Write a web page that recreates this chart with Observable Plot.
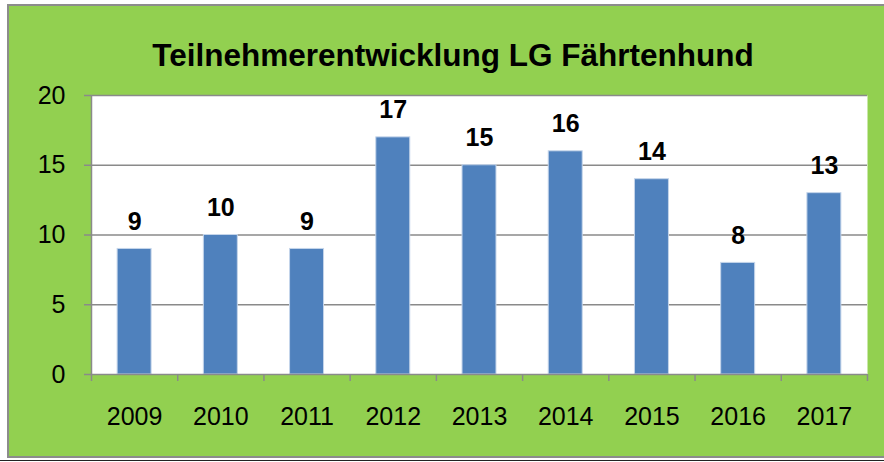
<!DOCTYPE html>
<html>
<head>
<meta charset="utf-8">
<script src="https://cdn.jsdelivr.net/npm/d3@7"></script>
<script src="https://cdn.jsdelivr.net/npm/@observablehq/plot@0.6"></script>
<style>
  html, body { margin: 0; padding: 0; background: #ffffff; }
  #page { position: relative; width: 884px; height: 462px; overflow: hidden; background: #ffffff; }
  #box { position: absolute; left: 7px; top: 4px; width: 890px; height: 450px; border: 2px solid #8c8c8c; background: #92D050; }
  #base { position: absolute; left: 0; top: 460px; width: 884px; height: 0; border-top: 1.5px solid #222; }
  #chart { position: absolute; left: 0; top: 0; }
  svg { font-family: "Liberation Sans", Arial, sans-serif; }
</style>
</head>
<body>
<div id="page">
  <div id="box"></div>
  <div id="base"></div>
  <div id="chart"></div>
</div>
<script>
const title = "Teilnehmerentwicklung LG Fährtenhund";
const years = [2009, 2010, 2011, 2012, 2013, 2014, 2015, 2016, 2017];
const participants = [9, 10, 9, 17, 15, 16, 14, 8, 13];
const yTicks = [0, 5, 10, 15, 20];

const data = years.map((year, i) => ({year, value: participants[i]}));
const halfBar = 0.197;
const boundaries = [years[0] - 0.5, ...years.map(y => y + 0.5)];
const gray = "#8a8a8a";

const chart = Plot.plot({
  width: 884,
  height: 462,
  marginLeft: 91,
  marginRight: 17,
  marginTop: 95,
  marginBottom: 88,
  style: {background: "transparent", fontFamily: "Liberation Sans, Arial, sans-serif", color: "#000"},
  x: {domain: [years[0] - 0.5, years[years.length - 1] + 0.5]},
  y: {domain: [0, 20]},
  marks: [
    Plot.frame({fill: "#ffffff", stroke: null}),
    Plot.ruleY(yTicks.filter(t => t > 0), {stroke: gray, strokeWidth: 1.5}),
    Plot.rectY(data, {x1: d => d.year - halfBar, x2: d => d.year + halfBar, y: "value", fill: "#4F81BD", stroke: "#c5d5ea", strokeWidth: 1}),
    Plot.ruleX([boundaries[0]], {stroke: gray, strokeWidth: 1.5}),
    Plot.ruleY([0], {stroke: gray, strokeWidth: 1.5}),
    Plot.axisY({ticks: yTicks, tickSize: 7, tickPadding: 19, stroke: gray, strokeWidth: 1.5, fontSize: 25, fill: "#000", label: null}),
    Plot.axisX({ticks: boundaries, tickSize: 7, tickFormat: () => "", stroke: gray, strokeWidth: 1.5, label: null}),
    Plot.axisX({ticks: years, tickSize: 0, tickPadding: 33, tickFormat: d => String(d), fontSize: 25, fill: "#000", label: null}),
    Plot.text(data, {x: "year", y: "value", text: d => String(d.value), dy: -27, fontSize: 25, fontWeight: "bold", fill: "#000"}),
    Plot.text([title], {frameAnchor: "top", dy: -52, dx: -26.5, fontSize: 31.5, fontWeight: "bold", fill: "#000"})
  ]
});
document.getElementById("chart").appendChild(chart);
</script>
</body>
</html>
